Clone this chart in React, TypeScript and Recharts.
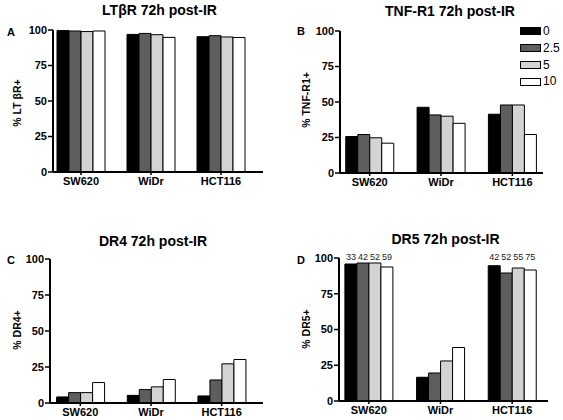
import { BarChart, Bar, XAxis, YAxis, Legend, LabelList } from "recharts"

const FONT = "'Liberation Sans', Arial, Helvetica, sans-serif"

// categories and series
const cellLines = ["SW620", "WiDr", "HCT116"]
const doses = ["0", "2.5", "5", "10"]
const doseColors = ["#000000", "#5e5e5e", "#d3d3d3", "#ffffff"]
const yTicks = [0, 25, 50, 75, 100]

// % positive cells, one row per cell line, one value per dose
const ltbrValues = [
  [99.6, 99.3, 98.9, 99.3],
  [96.9, 97.6, 96.7, 94.8],
  [95.3, 96.0, 95.1, 94.7],
]
const tnfr1Values = [
  [25.7, 27.1, 24.8, 21.0],
  [46.3, 40.9, 40.0, 35.0],
  [41.4, 47.9, 47.9, 27.1],
]
const dr4Values = [
  [4.2, 7.2, 7.2, 14.2],
  [5.3, 9.3, 11.2, 16.3],
  [4.9, 16.0, 27.2, 30.2],
]
const dr5Values = [
  [95.8, 96.5, 96.5, 93.7],
  [16.6, 19.6, 28.0, 37.4],
  [94.6, 89.5, 93.0, 91.6],
]
// numbers printed above the DR5 bars
const dr5Labels = [["33", "42", "52", "59"], [], ["42", "52", "55", "75"]]

type PanelCfg = {
  letter: string
  title: string
  yLabel: string
  values: number[][]
  labels?: string[][]
  legend?: boolean
  left: number
  top: number
  width: number
  height: number
  margin: { top: number; left: number; right: number; bottom: number }
  xHeight: number
  padding: { left: number; right: number }
  gap: number
  text: { title: [number, number]; letter: [number, number]; yLabel: [number, number] }
}

const panels: PanelCfg[] = [
  {
    letter: "A", title: "LTβR 72h post-IR", yLabel: "% LT βR+", values: ltbrValues,
    left: 0, top: 0, width: 281, height: 210,
    margin: { top: 30, left: 23, right: 18, bottom: 8 }, xHeight: 30,
    padding: { left: -7, right: 7 }, gap: 11,
    text: { title: [159.5, 10], letter: [7, 31.5], yLabel: [17, 103] },
  },
  {
    letter: "B", title: "TNF-R1 72h post-IR", yLabel: "% TNF-R1+", values: tnfr1Values, legend: true,
    left: 281, top: 0, width: 282, height: 210,
    margin: { top: 31, left: 29, right: 20, bottom: 7 }, xHeight: 30,
    padding: { left: -6, right: -5 }, gap: 11.75,
    text: { title: [450, 11], letter: [297, 31], yLabel: [306, 100] },
  },
  {
    letter: "C", title: "DR4 72h post-IR", yLabel: "% DR4+", values: dr4Values,
    left: 0, top: 215, width: 281, height: 205,
    margin: { top: 44, left: 20, right: 18, bottom: 0 }, xHeight: 17,
    padding: { left: -5, right: 6 }, gap: 11.6,
    text: { title: [153, 240.7], letter: [7, 259.5], yLabel: [17, 330] },
  },
  {
    letter: "D", title: "DR5 72h post-IR", yLabel: "% DR5+", values: dr5Values, labels: dr5Labels,
    left: 281, top: 215, width: 282, height: 205,
    margin: { top: 43, left: 28, right: 15, bottom: 0 }, xHeight: 19,
    padding: { left: -6, right: 0 }, gap: 11.9,
    text: { title: [445.5, 239], letter: [297, 259.5], yLabel: [306, 329] },
  },
]

// legend keeps the dose order (Recharts would sort it by name)
const renderLegend = () => (
  <div style={{ fontFamily: FONT, fontSize: 12, color: "#000" }}>
    {doses.map((d, j) => (
      <div key={d} style={{ display: "flex", alignItems: "center", height: 16.8, lineHeight: "16.8px" }}>
        <span style={{ width: 19, height: 6, background: doseColors[j], border: "1px solid #000", marginRight: 2 }} />
        <span>{d}</span>
      </div>
    ))}
  </div>
)

// labels sit level with the 100% line, worked out from the bar's own scale
const topLabel = (values: number[][], j: number) => (props: any) => {
  const { value, index } = props
  if (!value) return null
  const vb = props.viewBox ?? props
  const { x, y, width, height } = vb
  const v = values[index][j]
  const top = y + height - (height * 100) / v
  return (
    <text x={x + width / 2} y={top + 2} textAnchor="middle" fontSize={9} fill="#222" fontFamily={FONT}>
      {value}
    </text>
  )
}

function Panel({ cfg }: { cfg: PanelCfg }) {
  const data = cellLines.map((line, i) => {
    const row: any = { line }
    doses.forEach((_, j) => {
      row[`d${j}`] = cfg.values[i][j]
      if (cfg.labels) row[`n${j}`] = cfg.labels[i][j] ?? ""
    })
    return row
  })
  const axisLine = { stroke: "#000", strokeWidth: 2 }
  const tick = { fill: "#000", fontSize: 11, fontWeight: 700, fontFamily: FONT }
  return (
    <div style={{ position: "absolute", left: cfg.left, top: cfg.top }}>
      <BarChart
        width={cfg.width}
        height={cfg.height}
        data={data}
        margin={cfg.margin}
        barGap={0}
        barCategoryGap={cfg.gap}
      >
        <XAxis
          dataKey="line"
          interval={0}
          padding={cfg.padding}
          height={cfg.xHeight}
          tickSize={3}
          tickMargin={2}
          axisLine={axisLine}
          tickLine={{ stroke: "#000", strokeWidth: 1.5 }}
          tick={tick}
        />
        <YAxis
          domain={[0, 100]}
          ticks={yTicks}
          width={30}
          tickSize={5}
          tickMargin={1}
          axisLine={axisLine}
          tickLine={{ stroke: "#000", strokeWidth: 1.5 }}
          tick={tick}
        />
        {doses.map((d, j) => (
          <Bar
            key={d}
            dataKey={`d${j}`}
            name={d}
            fill={doseColors[j]}
            stroke="#000"
            strokeWidth={1}
            isAnimationActive={false}
          >
            {cfg.labels && <LabelList dataKey={`n${j}`} content={topLabel(cfg.values, j)} />}
          </Bar>
        ))}
        {cfg.legend && (
          <Legend
            layout="vertical"
            align="center"
            verticalAlign="middle"
            wrapperStyle={{ left: 239, top: 23, width: 60 }}
            content={renderLegend}
          />
        )}
      </BarChart>
    </div>
  )
}

export default function App() {
  return (
    <div
      style={{
        position: "absolute",
        left: 0,
        top: 0,
        width: 563,
        height: 420,
        background: "#fff",
        overflow: "hidden",
      }}
    >
      {panels.map((p) => (
        <Panel key={p.letter} cfg={p} />
      ))}
      <svg
        width={563}
        height={420}
        style={{ position: "absolute", left: 0, top: 0, pointerEvents: "none" }}
        fontFamily={FONT}
      >
        {panels.map((p) => (
          <g key={p.letter}>
            <text x={p.text.title[0]} y={p.text.title[1]} textAnchor="middle" dominantBaseline="central" fontSize={14} fontWeight={700}>
              {p.title}
            </text>
            <text x={p.text.letter[0]} y={p.text.letter[1]} dominantBaseline="central" fontSize={11} fontWeight={700}>
              {p.letter}
            </text>
            <text
              x={p.text.yLabel[0]}
              y={p.text.yLabel[1]}
              textAnchor="middle"
              dominantBaseline="central"
              fontSize={10.5}
              fontWeight={700}
              transform={`rotate(-90 ${p.text.yLabel[0]} ${p.text.yLabel[1]})`}
            >
              {p.yLabel}
            </text>
          </g>
        ))}
      </svg>
    </div>
  )
}
